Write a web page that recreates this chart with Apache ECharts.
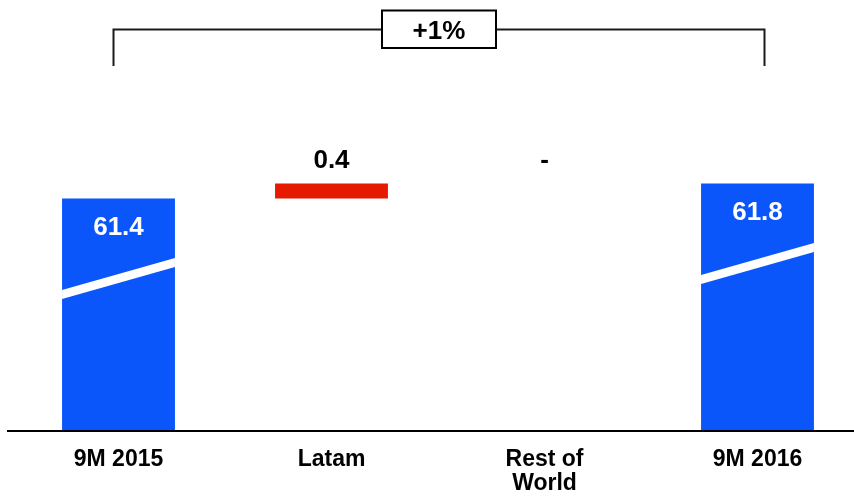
<!DOCTYPE html>
<html>
<head>
<meta charset="utf-8">
<script src="https://cdn.jsdelivr.net/npm/echarts@6/dist/echarts.min.js"></script>
<style>
html,body{margin:0;padding:0;background:#fff;}
#main{width:854px;height:496px;}
</style>
</head>
<body>
<div id="main"></div>
<script>
// ---- data ----
var categories = ['9M 2015', 'Latam', 'Rest of\nWorld', '9M 2016'];
var values = [61.4, 0.4, 0.0, 61.8];           // totals and changes
var kinds = ['total', 'delta', 'delta', 'total'];
var valueLabels = ['61.4', '0.4', '-', '61.8'];
var changeLabel = '+1%';

var FONT = '"Liberation Sans", Arial, sans-serif';
var BLUE = '#0a56fb';
var RED = '#e61a00';

// waterfall rows built from the arrays
var running = 0;
var rows = values.map(function (v, i) {
  var low, high;
  if (kinds[i] === 'total') { low = null; high = v; running = v; }
  else { low = running; high = running + v; running = high; }
  return [i, low === null ? 0 : low, high, kinds[i] === 'total' ? 1 : 0];
});

var chart = echarts.init(document.getElementById('main'), null, {renderer: 'canvas'});

function renderItem(params, api) {
  var idx = api.value(0);
  var isTotal = api.value(3) === 1;
  var cs = params.coordSys;
  var bandW = api.size([1, 0])[0];
  var w = bandW * 0.53;
  var topPt = api.coord([idx, api.value(2)]);
  var cx = topPt[0];
  var top = topPt[1];
  var bottom = isTotal ? cs.y + cs.height : api.coord([idx, api.value(1)])[1];
  var x0 = cx - w / 2, x1 = cx + w / 2;
  var children = [];
  var label = valueLabels[params.dataIndex];
  if (isTotal) {
    children.push({type: 'rect', shape: {x: x0, y: top, width: w, height: bottom - top}, style: {fill: BLUE}});
    var hl = 96, hr = 64, t = 4.6;
    children.push({type: 'polygon', shape: {points: [[x0, top + hl - t], [x1, top + hr - t], [x1, top + hr + t], [x0, top + hl + t]]}, style: {fill: '#ffffff'}});
    children.push({type: 'text', x: cx, y: top + 16, style: {text: label, fill: '#ffffff', font: 'bold 26px ' + FONT, align: 'center', verticalAlign: 'top'}});
  } else {
    if (bottom - top > 0.5) {
      children.push({type: 'rect', shape: {x: x0, y: top, width: w, height: bottom - top}, style: {fill: RED}});
    }
    children.push({type: 'text', x: cx, y: top - 10, style: {text: label, fill: '#000000', font: 'bold 26px ' + FONT, align: 'center', verticalAlign: 'bottom'}});
  }
  return {type: 'group', children: children};
}

chart.setOption({
  animation: false,
  backgroundColor: '#ffffff',
  grid: {left: 12, width: 852, top: 161, bottom: 65, containLabel: false, outerBoundsMode: 'none'},
  xAxis: {
    type: 'category',
    data: categories,
    axisLine: {show: false},
    axisTick: {show: false},
    axisLabel: {
      margin: 17,
      color: '#000000',
      fontFamily: FONT,
      fontWeight: 'bold',
      fontSize: 23,
      lineHeight: 24,
      interval: 0
    }
  },
  yAxis: {
    type: 'value',
    min: 55.2,
    max: 62.4,
    show: false,
    splitLine: {show: false}
  },
  series: [{
    type: 'custom',
    renderItem: renderItem,
    encode: {x: 0, y: [1, 2]},
    data: rows,
    clip: false
  }]
});

// annotations derived from the category positions
var pL = chart.convertToPixel({xAxisIndex: 0}, 0);
var pR = chart.convertToPixel({xAxisIndex: 0}, 3);
var baseY = chart.convertToPixel({yAxisIndex: 0}, 55.2);
var bx0 = pL - 5, bx1 = pR + 7;
var mid = (bx0 + bx1) / 2;
chart.setOption({
  graphic: [
    {type: 'line', shape: {x1: 7, y1: baseY, x2: 854, y2: baseY}, style: {stroke: '#000000', lineWidth: 2}, z: 10},
    {type: 'polyline', shape: {points: [[bx0, 66], [bx0, 29.5], [bx1, 29.5], [bx1, 66]]}, style: {stroke: '#1a1a1a', lineWidth: 2, fill: null}},
    {type: 'rect', shape: {x: mid - 57, y: 10.5, width: 114, height: 37.5}, style: {fill: '#ffffff', stroke: '#000000', lineWidth: 2}, z: 20},
    {type: 'text', x: mid, y: 31.5, style: {text: changeLabel, fill: '#000000', font: 'bold 26px ' + FONT, align: 'center', verticalAlign: 'middle'}, z: 21}
  ]
});
</script>
</body>
</html>
